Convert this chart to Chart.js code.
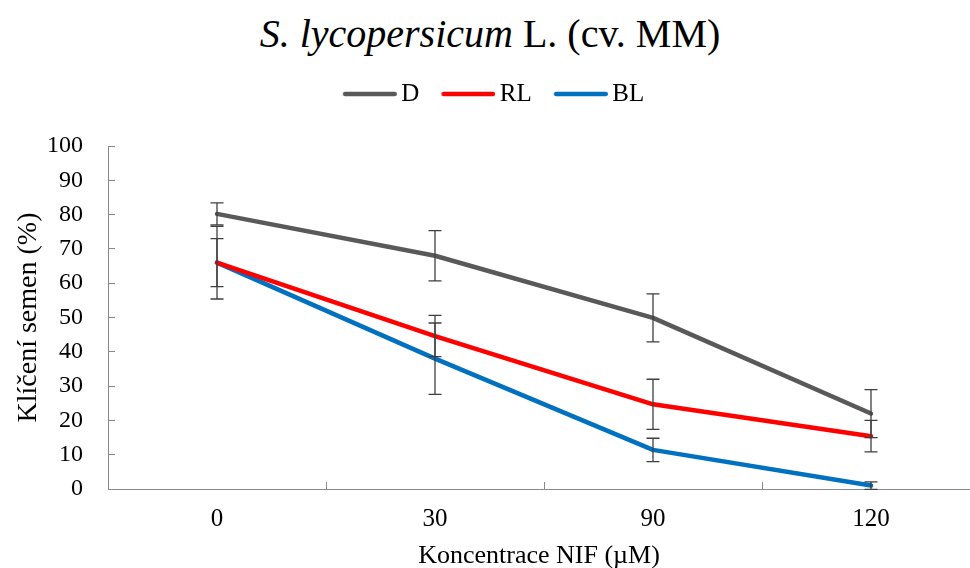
<!DOCTYPE html>
<html><head><meta charset="utf-8">
<script src="https://cdn.jsdelivr.net/npm/chart.js@4/dist/chart.umd.min.js"></script>
<style>
html,body{margin:0;padding:0;background:#fff;}
#wrap{position:relative;width:970px;height:568px;overflow:hidden;background:#fff;}
#title{position:absolute;left:0;top:14px;width:970px;padding-left:10px;box-sizing:border-box;text-align:center;font:40px/40px "Liberation Serif","Times New Roman",serif;color:#000;white-space:nowrap;}
canvas{position:absolute;left:0;top:0;}
</style></head><body>
<div id="wrap"><div id="title"><i>S. lycopersicum</i> L. (cv. MM)</div><canvas id="c" width="970" height="568"></canvas></div>
<script>
// ---- data ----
const categories = ['0', '30', '90', '120'];
const seriesNames = ['D', 'RL', 'BL'];
const dValues  = [80.2, 68.0, 49.9, 22.0];
const dErrors  = [3.2, 7.3, 7.0, 7.0];
const rlValues = [66.0, 44.6, 24.7, 15.4];
const rlErrors = [7.0, 6.0, 7.3, 4.6];
const blValues = [66.0, 38.0, 11.4, 1.0];
const blErrors = [10.6, 10.4, 3.4, 1.1];
const yTicks = [0, 10, 20, 30, 40, 50, 60, 70, 80, 90, 100];

// ---- styling ----
const FONT = "'Liberation Serif', 'Times New Roman', serif";
const colors = ['#595959', '#FF0000', '#0070C0'];
const AXIS = '#898989';
Chart.defaults.font.family = FONT;
Chart.defaults.color = '#000';

function legendImg(color) {
  const c = document.createElement('canvas');
  c.width = 62; c.height = 8;
  const g = c.getContext('2d');
  g.strokeStyle = color; g.lineWidth = 4.5; g.lineCap = 'round';
  g.beginPath(); g.moveTo(10.25, 4); g.lineTo(59.75, 4); g.stroke();
  return c;
}
const legendImgs = colors.map(legendImg);

const valueSets = [dValues, rlValues, blValues];
const errorSets = [dErrors, rlErrors, blErrors];

const datasets = seriesNames.map((name, k) => ({
  label: name,
  data: valueSets[k].map((v, i) => ({ x: i, y: v })),
  errors: errorSets[k],
  borderColor: colors[k],
  backgroundColor: colors[k],
  borderWidth: 4.5,
  pointRadius: 0,
  pointHoverRadius: 0,
  tension: 0,
  borderJoinStyle: 'round',
  borderCapStyle: 'round'
}));

const errorBars = {
  id: 'errorBars',
  afterDatasetsDraw(chart) {
    const { ctx, scales: { x, y } } = chart;
    ctx.save();
    ctx.strokeStyle = '#3f3f3f';
    ctx.lineWidth = 1.3;
    chart.data.datasets.forEach(ds => {
      ds.data.forEach((p, i) => {
        const e = ds.errors[i];
        const px = x.getPixelForValue(p.x);
        const yt = y.getPixelForValue(p.y + e);
        const yb = y.getPixelForValue(p.y - e);
        ctx.beginPath();
        ctx.moveTo(px, yt); ctx.lineTo(px, yb);
        ctx.moveTo(px - 6.5, yt); ctx.lineTo(px + 6.5, yt);
        ctx.moveTo(px - 6.5, yb); ctx.lineTo(px + 6.5, yb);
        ctx.stroke();
      });
    });
    ctx.restore();
  }
};

const legendSize = {
  id: 'legendSize',
  beforeLayout(chart) {
    const lg = chart.legend;
    if (lg && !lg._patched) {
      const orig = lg.fit;
      lg.fit = function () { orig.call(this); this.height = 86.5; };
      lg._patched = true;
    }
  }
};

new Chart(document.getElementById('c'), {
  type: 'line',
  data: { datasets },
  plugins: [legendSize, errorBars],
  options: {
    responsive: false,
    animation: false,
    devicePixelRatio: 1,
    layout: { padding: { left: 17, right: 0, top: 59.5, bottom: 0 } },
    plugins: {
      tooltip: { enabled: false },
      title: { display: false },
      legend: {
        position: 'top',
        labels: {
          font: { family: FONT, size: 25 },
          color: '#000',
          padding: 22,
          usePointStyle: true,
          pointStyleWidth: 46,
          generateLabels: (chart) => Chart.defaults.plugins.legend.labels.generateLabels(chart)
            .map((l, i) => Object.assign(l, { pointStyle: legendImgs[i] }))
        }
      }
    },
    scales: {
      x: {
        type: 'linear',
        min: -0.5,
        max: -0.5 + 862 / 218,
        afterBuildTicks: s => { s.ticks = categories.map((c, i) => ({ value: i })); },
        afterFit: s => { s.height = 79; },
        ticks: {
          callback: v => categories[v],
          font: { family: FONT, size: 25 },
          color: '#000',
          padding: 22,
          autoSkip: false,
          maxRotation: 0
        },
        grid: { drawOnChartArea: false, drawTicks: true, tickLength: -7, offset: true, color: AXIS, lineWidth: 1 },
        border: { display: true, color: AXIS, width: 1 },
        title: {
          display: true,
          text: 'Koncentrace NIF (µM)',
          font: { family: FONT, size: 26, lineHeight: 0.92 },
          color: '#000',
          padding: 0
        }
      },
      y: {
        type: 'linear',
        min: 0,
        max: 100,
        afterBuildTicks: s => { s.ticks = yTicks.map(v => ({ value: v })); },
        afterFit: s => { s.width = 91; },
        ticks: { font: { family: FONT, size: 24 }, color: '#000', padding: 32 },
        grid: { drawOnChartArea: false, drawTicks: true, tickLength: -7, color: AXIS, lineWidth: 1 },
        border: { display: true, color: AXIS, width: 1 },
        title: {
          display: true,
          text: 'Klíčení semen (%)',
          font: { family: FONT, size: 28, lineHeight: 0.85 },
          color: '#000',
          padding: 0
        }
      }
    }
  }
});
</script>
</body></html>
